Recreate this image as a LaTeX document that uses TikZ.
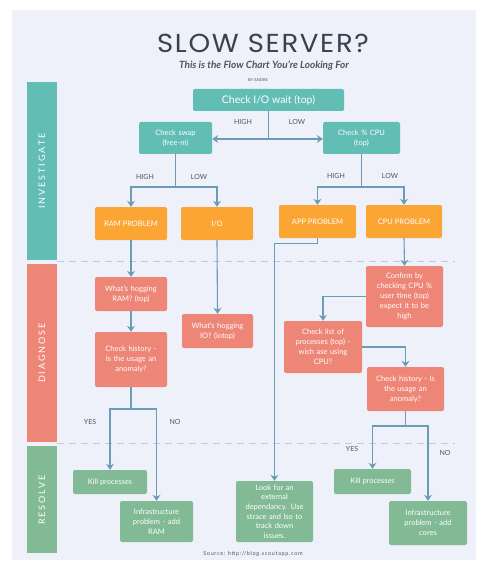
\documentclass[tikz,border=0pt]{standalone}
\usepackage{fontspec}
\setmainfont{Lato}
\newfontfamily\titlefont[LetterSpace=6]{Poppins}
\newfontfamily\sidefont[LetterSpace=22]{Lato}
\newfontfamily\srcfont[LetterSpace=12]{Lato}
\usetikzlibrary{arrows.meta}
\definecolor{bgc}{HTML}{EEF1F9}
\definecolor{tealc}{HTML}{62BDB5}
\definecolor{orangec}{HTML}{FBA534}
\definecolor{salmonc}{HTML}{EE8677}
\definecolor{greenc}{HTML}{82BA96}
\definecolor{arrc}{HTML}{6B9BB5}
\definecolor{dashc}{HTML}{BFC8D4}
\definecolor{titlec}{HTML}{3A4250}
\definecolor{labc}{HTML}{4F5560}
\tikzset{
  box/.style={rounded corners=2pt, inner sep=0.5pt, align=center, text=white,
    font=\fontsize{7.5}{10}\selectfont},
  tbox/.style={box, fill=tealc},
  obox/.style={box, fill=orangec},
  sbox/.style={box, fill=salmonc},
  gbox/.style={box, fill=greenc},
  conn/.style={draw=arrc, line width=1.1pt},
  arr/.style={conn, -{Stealth[length=6pt,width=8pt,inset=2pt]}},
  lab/.style={text=labc, font=\fontsize{7}{7}\selectfont, inner sep=0pt},
  sep/.style={draw=dashc, line width=0.9pt, dash pattern=on 7pt off 5pt},
  side/.style={rotate=90, text=white, font=\sidefont\fontsize{9}{9}\selectfont, inner sep=0pt}
}
\begin{document}
\begin{tikzpicture}[x=1pt,y=-1pt]
\useasboundingbox (0,0) rectangle (476,564);
\fill[white] (0,0) rectangle (476,564);
\fill[bgc] (12,10) rectangle (476,560);
% title
\node[text=titlec, font=\titlefont\fontsize{26}{26}\selectfont, inner sep=0pt, anchor=base, text depth=0pt, xscale=1.06] (title) at (263,53) {SLOW\,\,SERVER?};
\node[text=labc, font=\bfseries\itshape\fontsize{10}{10}\selectfont, inner sep=0pt, anchor=base] (sub) at (264,69) {This is the Flow Chart You're Looking For};
\node[text=labc, font=\fontsize{4}{5}\selectfont, inner sep=0pt] (by) at (258,80) {BY ANDRE};
% side bars
\fill[tealc] (27,82) rectangle (57,260);
\fill[salmonc] (27,264) rectangle (57,442);
\fill[greenc] (27,446) rectangle (57,553);
\node[side] (sinv) at (42,171) {INVESTIGATE};
\node[side] (sdia) at (42,353) {DIAGNOSE};
\node[side] (sres) at (42,500) {RESOLVE};
% separators
\draw[sep] (57,261) -- (455,261);
\draw[sep] (57,443) -- (455,443);
% boxes
\node[tbox, minimum width=151pt, minimum height=22pt, font=\fontsize{10.5}{12}\selectfont] (io) at (268.5,100) {Check I/O wait (top)};
\node[tbox, minimum width=73pt, minimum height=32pt, text width=70pt] (swap) at (175.5,138) {Check swap\\(free-m)};
\node[tbox, minimum width=77pt, minimum height=32pt, text width=74pt] (cpu) at (361.5,138) {Check \% CPU\\(top)};
\node[obox, minimum width=72pt, minimum height=33pt] (ram) at (131,223.5) {RAM PROBLEM};
\node[obox, minimum width=72pt, minimum height=33pt] (iob) at (217,223.5) {I/O};
\node[obox, minimum width=77pt, minimum height=33pt] (app) at (317.5,221.5) {APP PROBLEM};
\node[obox, minimum width=76pt, minimum height=33pt] (cpup) at (404,221.5) {CPU PROBLEM};
\node[sbox, minimum width=72pt, minimum height=34pt, text width=70pt] (hogram) at (131,294) {What's hogging\\RAM? (top)};
\node[sbox, minimum width=72pt, minimum height=55pt, text width=70pt] (hist1) at (131,359.5) {Check history -\\Is the usage an\\anomaly?};
\node[sbox, minimum width=71pt, minimum height=34pt, text width=69pt] (hogio) at (217.5,331) {What's hogging\\IO? (iotop)};
\node[sbox, minimum width=77pt, minimum height=61pt, text width=75pt] (confirm) at (404.5,296.5) {Confirm by\\checking CPU \%\\user time (top)\\expect it to be\\high};
\node[sbox, minimum width=78pt, minimum height=52pt, text width=76pt] (plist) at (323,347) {Check list of\\processes (top) -\\wich ase using\\CPU?};
\node[sbox, minimum width=77pt, minimum height=44pt, text width=75pt] (hist2) at (405.5,389) {Check history - Is\\the usage an\\anomaly?};
\node[gbox, minimum width=74pt, minimum height=24pt] (kill1) at (110,482) {Kill processes};
\node[gbox, minimum width=73pt, minimum height=41pt, text width=71pt] (infra1) at (156.5,521.5) {Infrastructure\\problem - add\\RAM};
\node[gbox, minimum width=77pt, minimum height=61pt, text width=75pt, font=\fontsize{7.5}{9.6}\selectfont] (ext) at (274.5,511.5) {Look for an\\external\\dependancy. Use\\strace and lso to\\track down\\issues.};
\node[gbox, minimum width=77pt, minimum height=25pt] (kill2) at (372.5,481.5) {Kill processes};
\node[gbox, minimum width=78pt, minimum height=44pt, text width=76pt] (infra2) at (428,523) {Infrastructure\\problem - add\\cores};
% connectors
\coordinate (j1) at (268.5,139);
\draw[conn] (io.south) -- (j1);
\draw[arr] (j1) -- (swap.east |- j1);
\draw[arr] (j1) -- (cpu.west |- j1);
\coordinate (j2) at (175.5,187);
\draw[conn] (swap.south) -- (j2);
\draw[arr] (j2) -| (ram.north);
\draw[arr] (j2) -| (iob.north);
\coordinate (j3) at (361.5,187);
\draw[conn] (cpu.south) -- (j3);
\draw[arr] (j3) -| (app.north);
\draw[arr] (j3) -| (cpup.north);
\draw[arr] (ram.south) -- (hogram.north);
\draw[arr] (iob.south) -- (hogio.north);
\draw[arr] (app.south) -- ++(0,5) -| (ext.north);
\draw[arr] (cpup.south) -- (confirm.north);
\draw[arr] (hogram.south) -- (hist1.north);
\draw[arr] (confirm.west) -| (plist.north);
\draw[arr] (plist.east) -| (hist2.north);
\coordinate (j4) at (131,409);
\draw[conn] (hist1.south) -- (j4);
\draw[arr] (j4) -| (kill1.north);
\draw[arr] (j4) -| (infra1.north);
\coordinate (j5) at (405.5,426);
\draw[conn] (hist2.south) -- (j5);
\draw[arr] (j5) -| (kill2.north);
\draw[arr] (j5) -| (infra2.north);
% labels
\node[lab] (l1) at (243,122) {HIGH};
\node[lab] (l2) at (297,122) {LOW};
\node[lab] (l3) at (145,177) {HIGH};
\node[lab] (l4) at (199,177) {LOW};
\node[lab] (l5) at (336,176) {HIGH};
\node[lab] (l6) at (390,176) {LOW};
\node[lab] (l7) at (90,422) {YES};
\node[lab] (l8) at (175,422) {NO};
\node[lab] (l9) at (352,449) {YES};
\node[lab] (l10) at (445,453) {NO};
\node[text=labc, font=\srcfont\fontsize{5.5}{6}\selectfont, inner sep=0pt] (src) at (253,554) {Source: http://blog.scoutapp.com};
\end{tikzpicture}
\end{document}
